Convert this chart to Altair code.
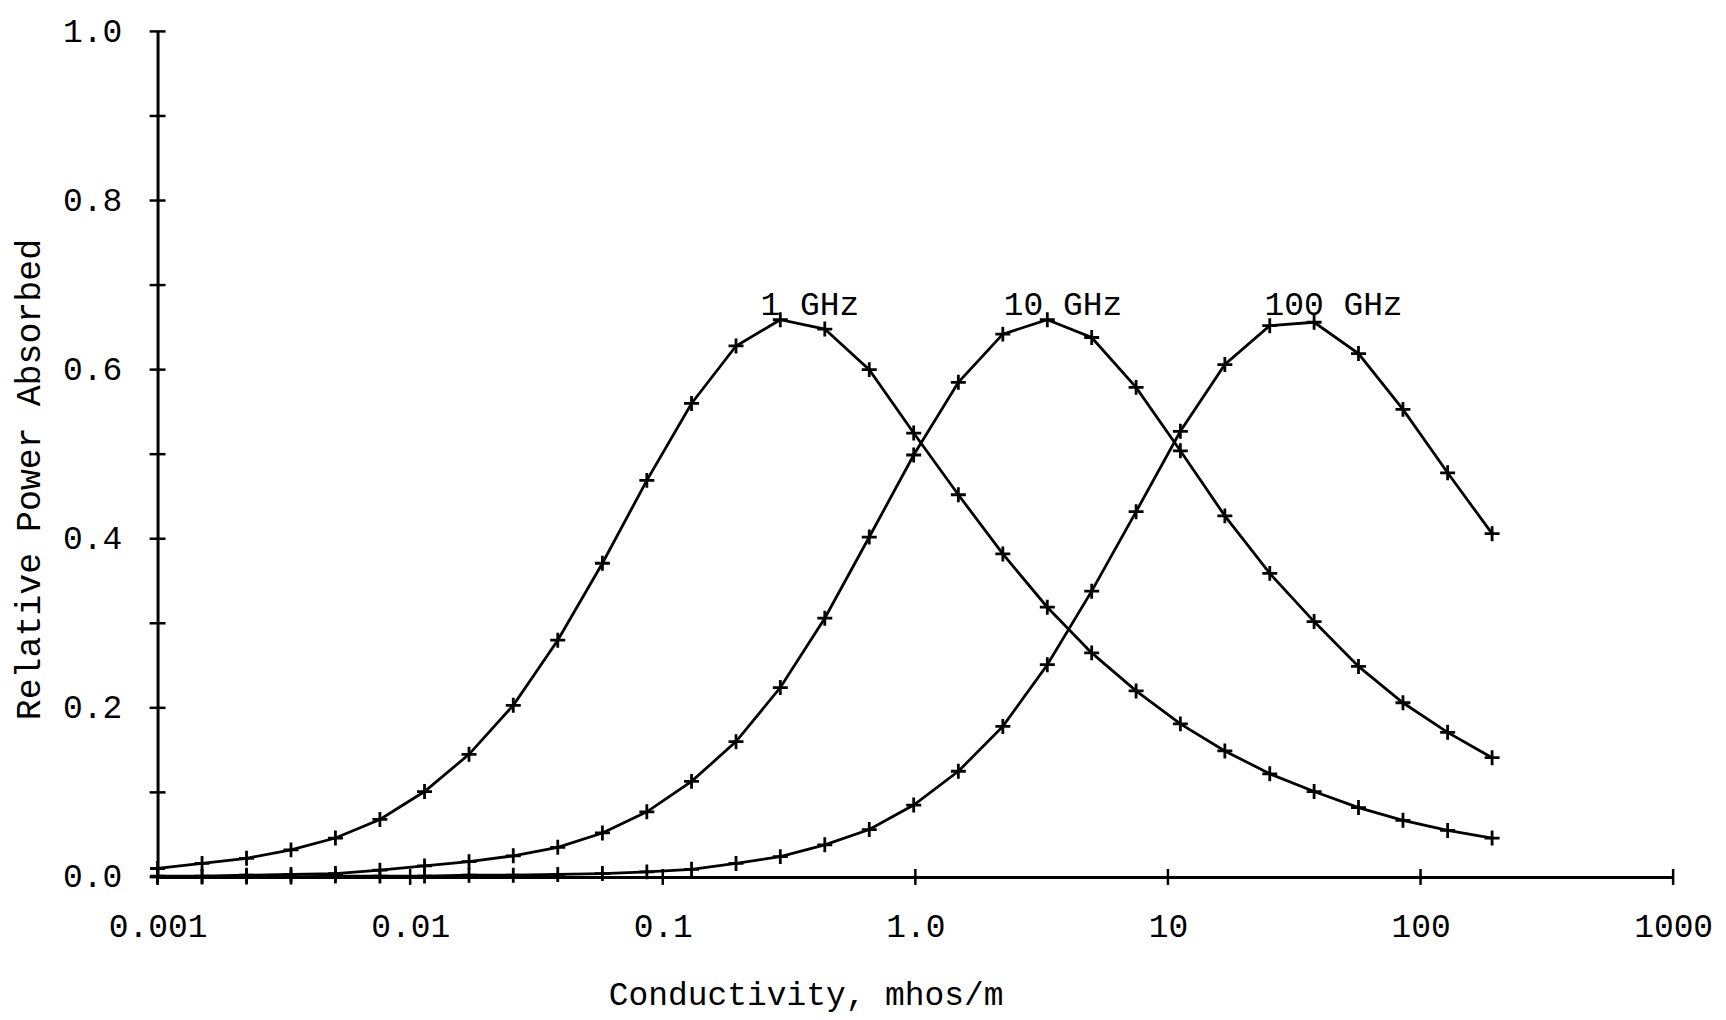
import altair as alt
import pandas as pd

# ---- data ----
SIGMA = [0.001, 0.0015, 0.00225, 0.003375, 0.00506, 0.00759, 0.0114, 0.0171,
         0.0256, 0.0384, 0.0577, 0.0865, 0.130, 0.195, 0.292, 0.438, 0.657,
         0.985, 1.48, 2.22, 3.33, 4.99, 7.48, 11.2, 16.8, 25.3, 37.9, 56.8,
         85.2, 128.0, 192.0]

P_1GHZ = [0.010, 0.016, 0.022, 0.032, 0.046, 0.068, 0.101, 0.145, 0.203, 0.280,
          0.371, 0.469, 0.560, 0.628, 0.659, 0.648, 0.600, 0.525, 0.452, 0.382,
          0.319, 0.265, 0.220, 0.181, 0.149, 0.122, 0.101, 0.082, 0.067, 0.055,
          0.046]

P_10GHZ = [0.001, 0.001, 0.002, 0.003, 0.004, 0.008, 0.013, 0.018, 0.025, 0.035,
           0.052, 0.077, 0.113, 0.160, 0.224, 0.306, 0.402, 0.499, 0.585, 0.642,
           0.659, 0.638, 0.579, 0.504, 0.427, 0.359, 0.302, 0.249, 0.206, 0.171,
           0.141]

P_100GHZ = [0.000, 0.000, 0.000, 0.000, 0.001, 0.001, 0.001, 0.002, 0.002, 0.003,
            0.004, 0.006, 0.009, 0.016, 0.024, 0.038, 0.056, 0.085, 0.125, 0.178,
            0.251, 0.338, 0.432, 0.527, 0.606, 0.652, 0.656, 0.619, 0.553, 0.478,
            0.406]

SERIES = ["1 GHz", "10 GHz", "100 GHz"]

LABEL_TEXT = ["1 GHz", "10 GHz", "100 GHz"]
LABEL_X = [0.244, 2.24, 24.1]
LABEL_Y = [0.665, 0.665, 0.665]

X_TICKS = [0.001, 0.01, 0.1, 1, 10, 100, 1000]
X_TICK_LABELS = ["0.001", "0.01", "0.1", "1.0", "10", "100", "1000"]
Y_TICKS = [0.0, 0.2, 0.4, 0.6, 0.8, 1.0]
Y_TICK_MARKS = [0.0, 0.1, 0.2, 0.3, 0.4, 0.5, 0.6, 0.7, 0.8, 0.9, 1.0]

# ---- tables (same field names in every layer so axes merge cleanly) ----
rows = []
for name, vals in zip(SERIES, [P_1GHZ, P_10GHZ, P_100GHZ]):
    for s, v in zip(SIGMA, vals):
        rows.append({"freq": name, "sigma": s, "power": v})
df = pd.DataFrame(rows)
labels_df = pd.DataFrame({"label": LABEL_TEXT, "sigma": LABEL_X, "power": LABEL_Y})
xt_df = pd.DataFrame({"sigma": X_TICKS})
yt_df = pd.DataFrame({"power": Y_TICK_MARKS})

W, H = 1520, 848
FONT = "Liberation Mono"
FS = 33

label_expr = (
    "[" + ",".join("'%s'" % s for s in X_TICK_LABELS) + "]"
    "[indexof([" + ",".join(repr(v) for v in X_TICKS) + "], datum.value)]"
)

xscale = alt.Scale(type="log", domain=[0.001, 1000], nice=False)
yscale = alt.Scale(domain=[0, 1], nice=False, zero=False)

x_axis = alt.Axis(
    values=X_TICKS, labelExpr=label_expr, title="Conductivity, mhos/m",
    grid=False, ticks=False, tickSize=0, domainWidth=3, domainColor="black",
    labelPadding=60, labelBaseline="alphabetic", labelAlign="center",
    labelFlush=False, labelOverlap=False, labelFont=FONT, labelFontSize=FS,
    labelColor="black", titleFont=FONT, titleFontSize=FS, titleFontWeight="normal",
    titleColor="black", titleX=650, titleY=128, titleBaseline="alphabetic",
    titleAlign="center",
)
y_axis = alt.Axis(
    values=Y_TICKS, format=".1f", title="Relative Power Absorbed",
    grid=False, ticks=False, tickSize=0, domainWidth=3, domainColor="black",
    labelPadding=36, labelAlign="right", labelBaseline="middle",
    labelFlush=False, labelOverlap=False, labelFont=FONT, labelFontSize=FS,
    labelColor="black", titleFont=FONT, titleFontSize=35, titleFontWeight="normal",
    titleColor="black", titleAngle=270, titleX=-118, titleY=449,
    titleBaseline="alphabetic", titleAlign="center",
)

X_ENC = alt.X("sigma:Q", scale=xscale, axis=x_axis)
Y_ENC = alt.Y("power:Q", scale=yscale, axis=y_axis)

base = alt.Chart(df)

lines = base.mark_line(color="black", strokeWidth=2.8).encode(
    x=X_ENC, y=Y_ENC, detail="freq:N",
)

points = base.mark_point(
    shape="M -1 0 L 1 0 M 0 -1 L 0 1", filled=False, color="black",
    strokeWidth=2.8, size=225, opacity=1,
).encode(x=X_ENC, y=Y_ENC)

texts = alt.Chart(labels_df).mark_text(
    align="left", baseline="alphabetic", font=FONT, fontSize=FS, color="black",
).encode(x=X_ENC, y=Y_ENC, text="label:N")

xticks = alt.Chart(xt_df).mark_rule(color="black", strokeWidth=2.5).encode(
    x=X_ENC, y=alt.value(H - 8), y2=alt.value(H + 8),
)

yticks = alt.Chart(yt_df).mark_rule(color="black", strokeWidth=2.5).encode(
    y=Y_ENC, x=alt.value(-8), x2=alt.value(8),
)

chart = alt.layer(lines, points, texts, xticks, yticks).properties(
    width=W, height=H,
    padding={"left": 150, "top": 22, "right": 45, "bottom": 140},
    autosize=alt.AutoSizeParams(type="none"),
    background="white",
).configure_view(stroke=None)

chart.save("out.html", embed_options={"renderer": "svg", "actions": False})
